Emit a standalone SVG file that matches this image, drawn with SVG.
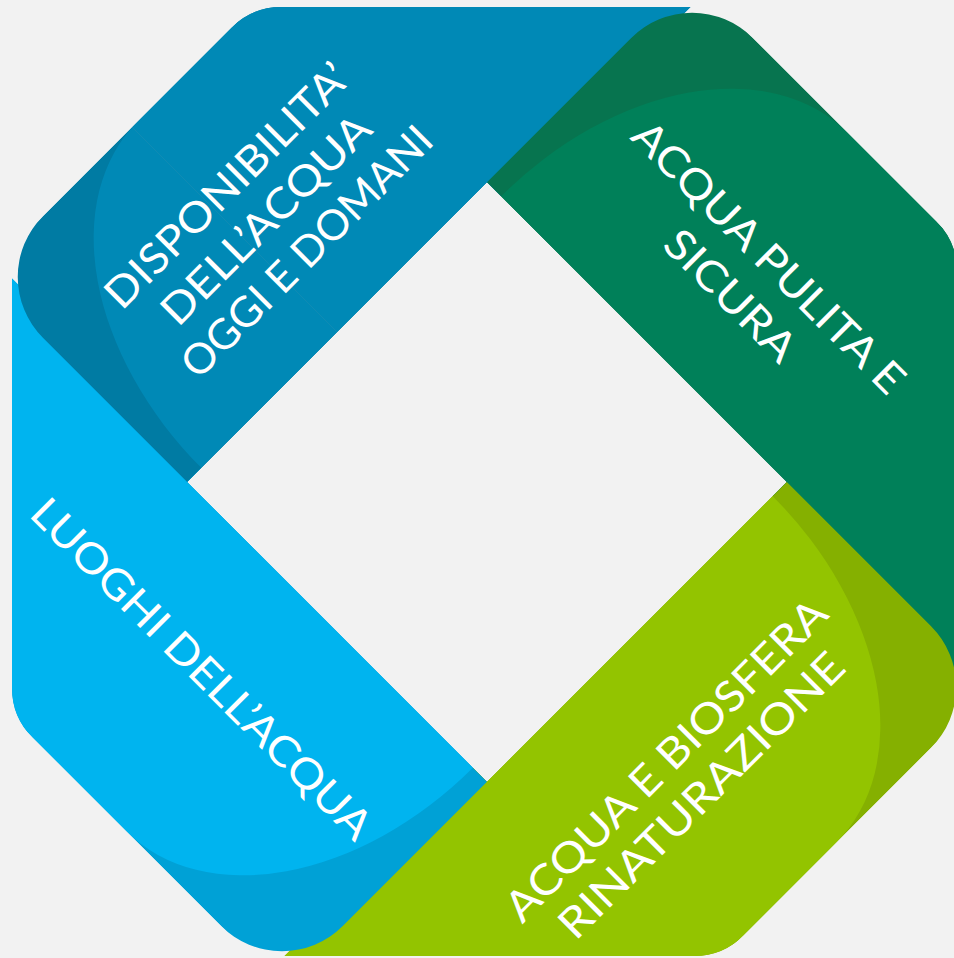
<svg xmlns="http://www.w3.org/2000/svg" width="954" height="958" viewBox="0 0 954 958">
<defs>
<style>
.lbl { font-family: Lato, "Open Sans", "DejaVu Sans", sans-serif; font-size: 42px; font-weight: 400; fill: #ffffff; text-anchor: middle; }
</style>
<clipPath id="oct">
<path d="M281,7 L693,7 A70,70 0 0 1 742.5,27.5 L936.5,221.5 A70,70 0 0 1 957,271 L957,693 A70,70 0 0 1 936.5,742.5 L743.5,935.5 A70,70 0 0 1 694,956 L280,956 A70,70 0 0 1 230.5,935.5 L32.5,737.5 A70,70 0 0 1 12,688 L12,276 A70,70 0 0 1 32.5,226.5 L231.5,27.5 A70,70 0 0 1 281,7 Z"/>
</clipPath>
<clipPath id="tailHalf"><rect x="0" y="-700" width="700" height="1400"/></clipPath>
<clipPath id="headHalf"><rect x="-700" y="-700" width="700" height="1400"/></clipPath>
<path id="band" d="M-212,-212 L-212,-416 A86,86 0 0 1 -126,-502 L620,-502 L620,-192 L212,-192 L212,-212 Z"/>
<path id="bandLight" d="M-192,-212 A200,290 0 0 1 8,-502 L620,-502 L620,-192 L212,-192 L212,-212 Z"/>
</defs>
<rect width="954" height="958" fill="#f2f2f2"/>
<g clip-path="url(#oct)">
  <g id="disponibilita-tail" transform="translate(487 482) rotate(-45)">
    <g clip-path="url(#tailHalf)">
      <use href="#band" fill="#007ba3"/>
      <use href="#bandLight" fill="#0089b6"/>
    </g>
  </g>
  <g id="node-acqua-pulita">
    <g transform="translate(487 482) rotate(45)">
      <use href="#band" fill="#07744f"/>
      <use href="#bandLight" fill="#008059"/>
    </g>
    <g transform="translate(720.2 305.8) rotate(45)">
      <text class="lbl" x="0" y="-54" textLength="366" lengthAdjust="spacingAndGlyphs">ACQUA PULITA E</text>
      <text class="lbl" x="0" y="0" textLength="168" lengthAdjust="spacingAndGlyphs">SICURA</text>
    </g>
  </g>
  <g id="node-biosfera">
    <g transform="translate(487 482) rotate(135)">
      <use href="#band" fill="#85b000"/>
      <use href="#bandLight" fill="#93c400"/>
    </g>
    <g transform="translate(711.7 805.7) rotate(-45)">
      <text class="lbl" x="0" y="-50" textLength="436" lengthAdjust="spacingAndGlyphs">ACQUA E BIOSFERA</text>
      <text class="lbl" x="0" y="0" textLength="385" lengthAdjust="spacingAndGlyphs">RINATURAZIONE</text>
    </g>
  </g>
  <g id="node-luoghi">
    <g transform="translate(487 482) rotate(225)">
      <use href="#band" fill="#00a1d6"/>
      <use href="#bandLight" fill="#00b4ef"/>
    </g>
    <g transform="translate(191.4 679.3) rotate(45)">
      <text class="lbl" x="0" y="0" textLength="463" lengthAdjust="spacingAndGlyphs">LUOGHI DELL’ACQUA</text>
    </g>
  </g>
  <g id="node-disponibilita">
    <g transform="translate(487 482) rotate(-45)">
      <g clip-path="url(#headHalf)">
        <use href="#band" fill="#007ba3"/>
        <use href="#bandLight" fill="#0089b6"/>
      </g>
    </g>
    <g transform="translate(277 229) rotate(-45)">
      <text class="lbl" x="-5" y="-51.5" textLength="326" lengthAdjust="spacingAndGlyphs">DISPONIBILITA’</text>
      <text class="lbl" x="-1" y="0" textLength="278" lengthAdjust="spacingAndGlyphs">DELL’ACQUA</text>
      <text class="lbl" x="5" y="51.5" textLength="336" lengthAdjust="spacingAndGlyphs">OGGI E DOMANI</text>
    </g>
  </g>
</g>
</svg>
